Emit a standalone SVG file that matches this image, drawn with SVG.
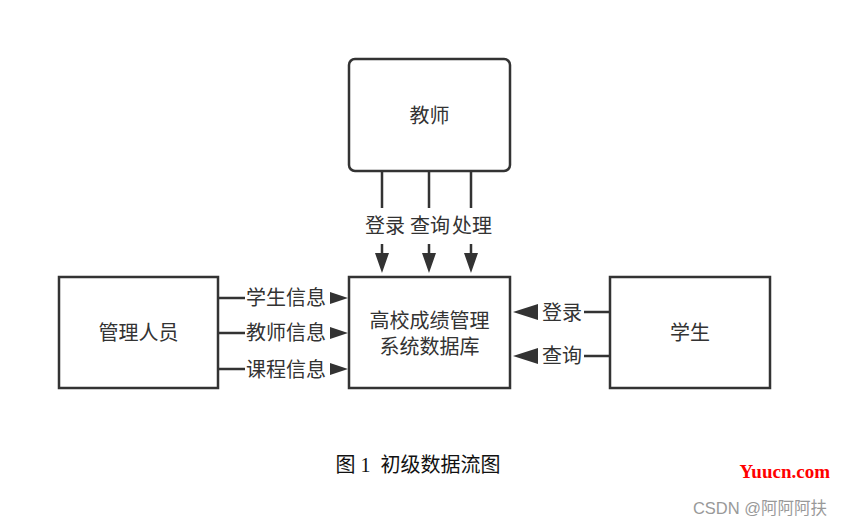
<svg xmlns="http://www.w3.org/2000/svg" width="842" height="526" viewBox="0 0 842 526">
<style>
.box{fill:#fff;stroke:#333;stroke-width:2.5}
.lbl{font-family:"Liberation Sans","Noto Sans CJK SC",sans-serif;font-size:20px;fill:#333;text-anchor:middle;dominant-baseline:central}
.edge{stroke:#333;stroke-width:2.5;fill:none}
.ah{fill:#333}
</style>
<rect width="842" height="526" fill="#fff"/>
<g id="teacher"><rect class="box" x="349" y="59" width="161" height="112" rx="6"/><text class="lbl" x="429.5" y="116">教师</text></g>
<g id="db"><rect class="box" x="349" y="277" width="161" height="111"/><text class="lbl" x="429.5" y="321">高校成绩管理</text><text class="lbl" x="429.5" y="347">系统数据库</text></g>
<g id="admin"><rect class="box" x="59" y="277" width="159" height="111"/><text class="lbl" x="138.5" y="333">管理人员</text></g>
<g id="student"><rect class="box" x="610" y="277" width="160" height="111"/><text class="lbl" x="690" y="333">学生</text></g>
<g id="connectors">
<path class="edge" d="M382 171V208M382 244V256M429 171V208M429 244V256M471 171V208M471 244V256"/>
<path class="ah" d="M375 253H389L382 273ZM422 253H436L429 273ZM464 253H478L471 273Z"/>
<text class="lbl" x="385" y="226">登录</text>
<text class="lbl" x="430" y="226">查询</text>
<text class="lbl" x="472" y="226">处理</text>
<path class="edge" d="M218 298H245M218 333H245M218 369H245"/>
<path class="ah" d="M330 292V304L348 298ZM330 327V339L348 333ZM330 363V375L348 369Z"/>
<text class="lbl" x="286" y="298">学生信息</text>
<text class="lbl" x="286" y="333">教师信息</text>
<text class="lbl" x="286" y="370">课程信息</text>
<path class="edge" d="M584 312H610M584 356H610"/>
<path class="ah" d="M538 304V320L513 312ZM538 348V364L513 356Z"/>
<text class="lbl" x="562" y="313">登录</text>
<text class="lbl" x="562" y="356">查询</text>
</g>
<text x="418" y="465" font-family="'Liberation Serif','Noto Sans CJK SC',serif" font-size="20" fill="#111" text-anchor="middle" dominant-baseline="central" xml:space="preserve">图 1  初级数据流图</text>
<text x="830" y="471" font-family="'Liberation Serif',serif" font-size="19" font-weight="bold" fill="#f00" text-anchor="end" dominant-baseline="central">Yuucn.com</text>
<text x="827" y="508" font-family="'Liberation Sans','Noto Sans CJK SC',sans-serif" font-size="16.5" fill="#999" text-anchor="end" dominant-baseline="central">CSDN @阿阿阿扶</text>
</svg>
